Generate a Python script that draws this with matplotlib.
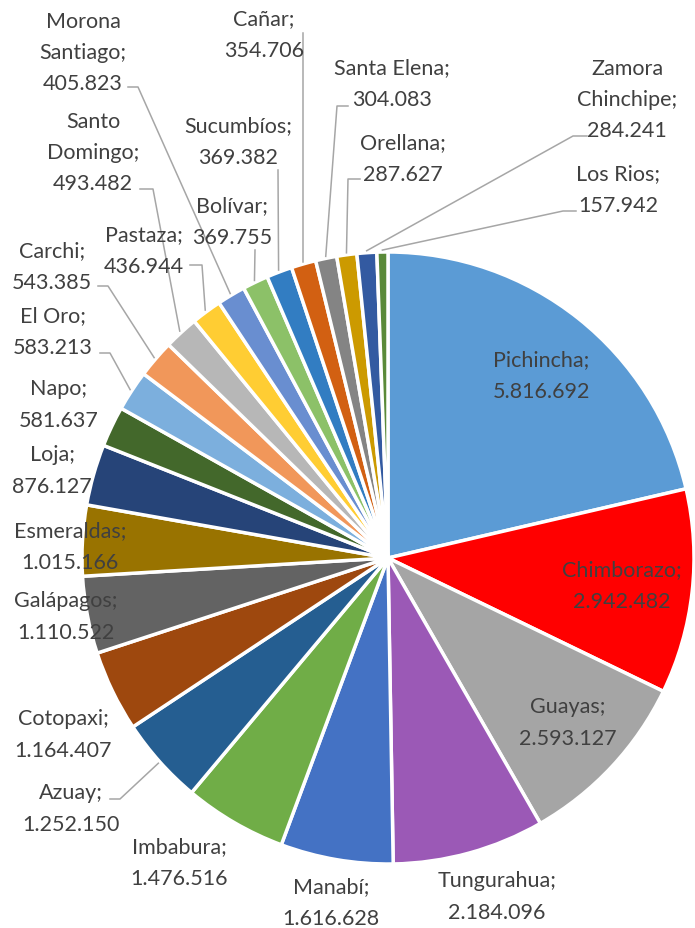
import matplotlib.pyplot as plt
import numpy as np

# datos por provincia (orden horario desde las 12)
provincias = ['Pichincha', 'Chimborazo', 'Guayas', 'Tungurahua', 'Manabí', 'Imbabura',
              'Azuay', 'Cotopaxi', 'Galápagos', 'Esmeraldas', 'Loja', 'Napo', 'El Oro',
              'Carchi', 'Santo Domingo', 'Pastaza', 'Morona Santiago', 'Bolívar',
              'Sucumbíos', 'Cañar', 'Santa Elena', 'Orellana', 'Zamora Chinchipe', 'Los Rios']
valores = [5816692, 2942482, 2593127, 2184096, 1616628, 1476516,
           1252150, 1164407, 1110522, 1015166, 876127, 581637, 583213,
           543385, 493482, 436944, 405823, 369755,
           369382, 354706, 304083, 287627, 284241, 157942]
colores = ['#5B9BD5', '#FF0000', '#A5A5A5', '#9B59B6', '#4472C4', '#70AD47',
           '#255E91', '#9E480E', '#636363', '#997300', '#264478', '#43682B',
           '#7CAFDD', '#F1975A', '#B7B7B7', '#FFCD33', '#698ED0', '#8CC168',
           '#327DC2', '#D26012', '#848484', '#CC9A00', '#335AA1', '#5A8A39']
nombres_etiqueta = {'Santo Domingo': 'Santo\nDomingo', 'Morona Santiago': 'Morona\nSantiago',
                    'Zamora Chinchipe': 'Zamora\nChinchipe'}

# posicion de las etiquetas (pixeles de la imagen) y quiebres de las lineas guia
pos_etiquetas = [(541, 376), (622, 586), (568, 723), (497, 897), (331, 903), (179, 863),
                 (71, 809), (63, 735), (66, 617), (70, 547), (52, 471), (59, 405), (53, 332),
                 (52, 267), (93, 153), (144, 251), (83, 53), (232, 222),
                 (238, 142), (264, 35), (392, 84), (403, 159), (627, 100), (618, 190)]
guias = {
    'Azuay': [(110, 800), (120, 800)],
    'El Oro': [(100, 354), (110, 354)],
    'Carchi': [(98, 287), (108, 287)],
    'Pastaza': [(190, 266), (202, 266)],
    'Bolívar': [(255, 251)],
    'Santo Domingo': [(140, 190), (153, 190)],
    'Morona Santiago': [(128, 88), (138, 88)],
    'Sucumbíos': [(278, 171)],
    'Cañar': [(303, 34)],
    'Santa Elena': [(348, 107), (337, 107)],
    'Orellana': [(360, 180), (348, 180)],
    'Zamora Chinchipe': [(587, 137), (573, 137)],
    'Los Rios': [(576, 212), (563, 212)],
}

W, H = 695, 929
cx, cy, r = 388, 559, 306

plt.rcParams['font.family'] = ['Lato', 'DejaVu Sans']
fig = plt.figure(figsize=(6.95, 9.29), dpi=100)
ax = fig.add_axes([0, 0, 1, 1])
wedges, _ = ax.pie(valores, colors=colores, startangle=90, counterclock=False,
                   center=(cx, H - cy), radius=r,
                   wedgeprops=dict(edgecolor='white', linewidth=2.5))

for w, nom, pos in zip(wedges, provincias, pos_etiquetas):
    txt = nombres_etiqueta.get(nom, nom) + ';\n' + f'{valores[provincias.index(nom)]:,}'.replace(',', '.')
    ax.text(pos[0], H - pos[1], txt, ha='center', va='center', fontsize=15.5,
            color='#404040', linespacing=1.7, zorder=5)
    if nom in guias:
        ang = np.deg2rad((w.theta1 + w.theta2) / 2)
        fin = (cx + (r + 2) * np.cos(ang), H - cy + (r + 2) * np.sin(ang))
        pts = [(x, H - y) for x, y in guias[nom]] + [fin]
        xs, ys = zip(*pts)
        ax.plot(xs, ys, color='#A6A6A6', lw=1.1, zorder=4)

ax.set_xlim(0, W)
ax.set_ylim(0, H)
ax.set_aspect('equal')
ax.axis('off')

plt.savefig('out.png', dpi=100)
